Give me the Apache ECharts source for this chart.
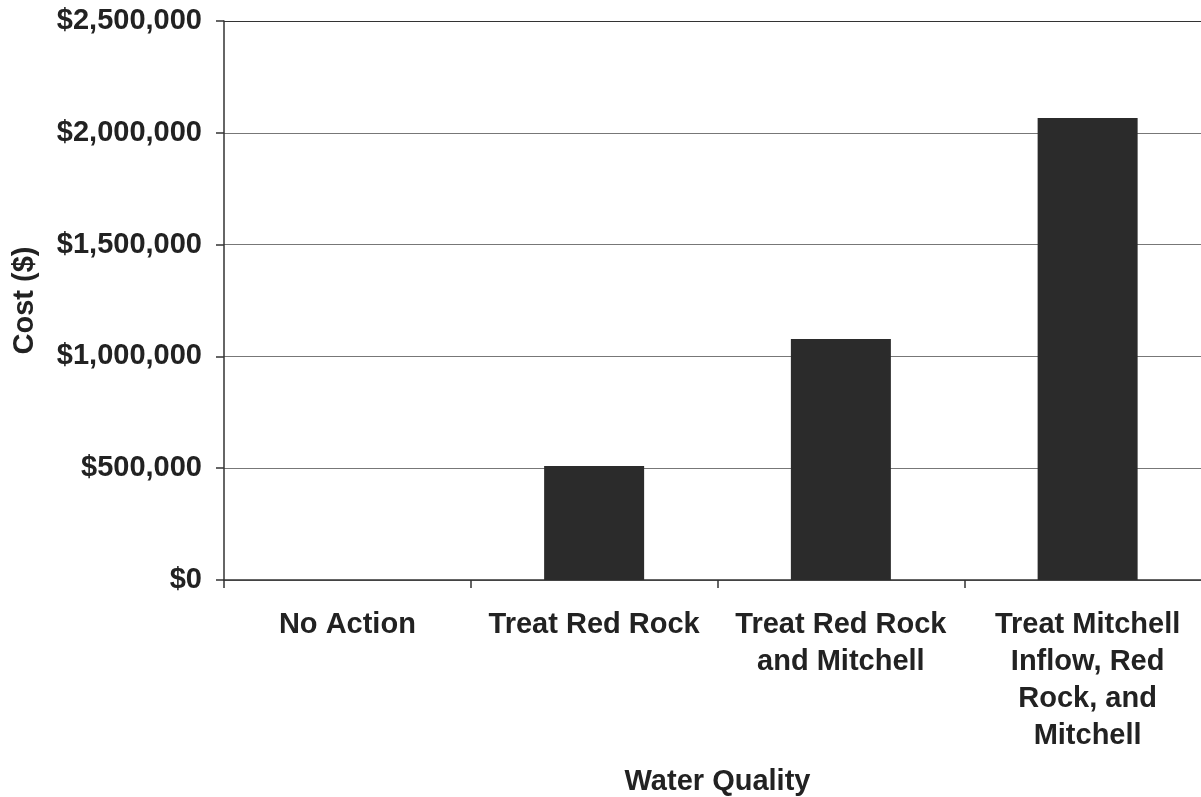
<!DOCTYPE html>
<html>
<head>
<meta charset="utf-8">
<script src="https://cdn.jsdelivr.net/npm/echarts@6/dist/echarts.min.js"></script>
<style>
html,body{margin:0;padding:0;background:#fff;}
#chart{width:1201px;height:797px;}
</style>
</head>
<body>
<div id="chart"></div>
<script>
var categories = ["No Action", "Treat Red Rock", "Treat Red Rock\nand Mitchell", "Treat Mitchell\nInflow, Red\nRock, and\nMitchell"];
var costs = [0, 510000, 1078000, 2066000];
var yTicks = [0, 500000, 1000000, 1500000, 2000000, 2500000];
var xTitle = "Water Quality";
var yTitle = "Cost ($)";

var FONT = "'Liberation Sans', Arial, Helvetica, sans-serif";
var TXT = "#222";

function money(v) {
  return "$" + String(Math.round(v)).replace(/\B(?=(\d{3})+(?!\d))/g, ",");
}

var chart = echarts.init(document.getElementById("chart"), null, {renderer: "canvas"});
chart.setOption({
  animation: false,
  backgroundColor: "#fff",
  grid: {left: 224, top: 21, width: 987, height: 559, containLabel: false, outerBoundsMode: "none"},
  xAxis: {
    type: "category",
    data: categories,
    name: xTitle,
    nameLocation: "middle",
    nameGap: 187,
    nameTextStyle: {fontFamily: FONT, fontWeight: "bold", fontSize: 29, color: TXT},
    axisLine: {show: true, lineStyle: {color: "#333", width: 1.5}},
    axisTick: {show: true, alignWithLabel: false, length: 8, lineStyle: {color: "#333", width: 1.5}},
    axisLabel: {
      interval: 0, margin: 26,
      fontFamily: FONT, fontWeight: "bold", fontSize: 29, lineHeight: 37, color: TXT, align: "center"
    },
    splitLine: {show: false}
  },
  yAxis: {
    type: "value",
    min: yTicks[0],
    max: yTicks[yTicks.length - 1],
    interval: yTicks[1] - yTicks[0],
    name: yTitle,
    nameLocation: "middle",
    nameGap: 185,
    nameRotate: 90,
    nameTextStyle: {fontFamily: FONT, fontWeight: "bold", fontSize: 29, color: TXT},
    axisLine: {show: true, lineStyle: {color: "#333", width: 1.5}},
    axisTick: {show: true, inside: false, length: 8, lineStyle: {color: "#333", width: 1.5}},
    axisLabel: {
      margin: 22,
      fontFamily: FONT, fontWeight: "bold", fontSize: 29, color: TXT,
      formatter: function (v) { return money(v); }
    },
    splitLine: {show: true, lineStyle: {color: ["#777", "#777", "#777", "#777", "#777", "#333"], width: 1}}
  },
  series: [{
    type: "bar",
    data: costs,
    barWidth: 100,
    itemStyle: {color: "#2b2b2b"}
  }]
});
</script>
</body>
</html>
